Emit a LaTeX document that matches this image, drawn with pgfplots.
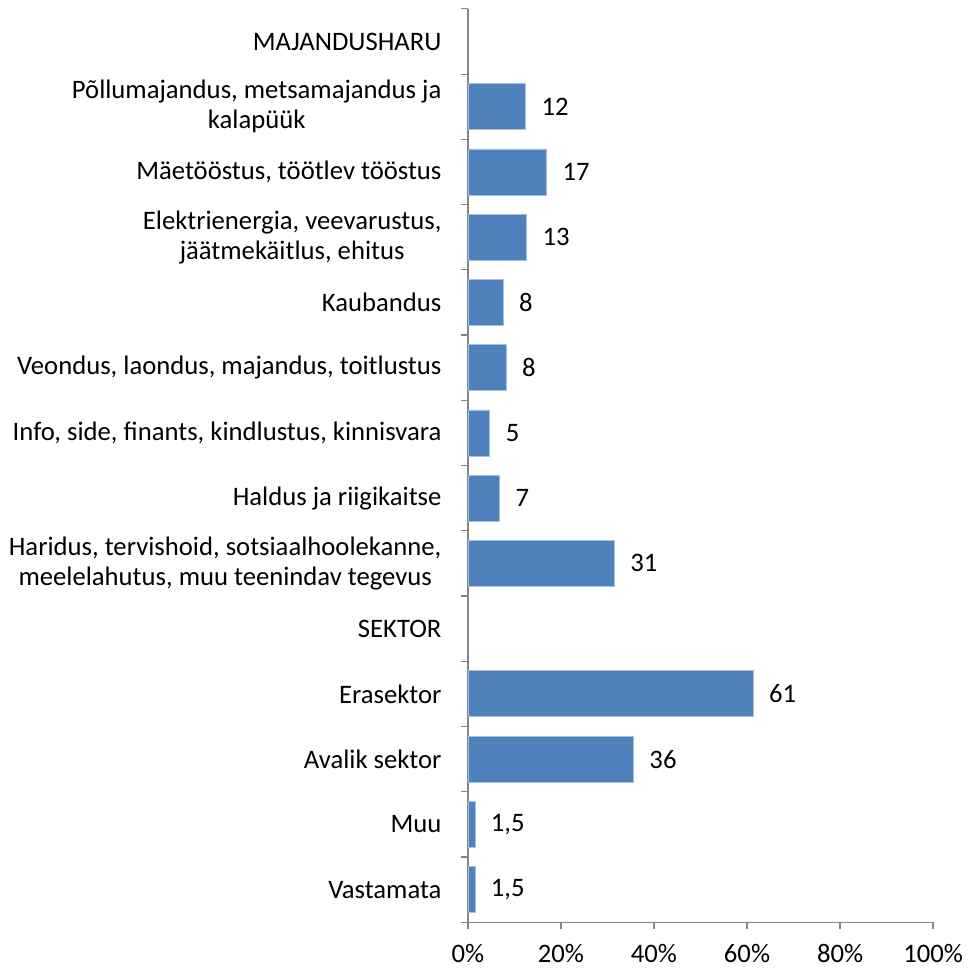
\documentclass[border=0pt]{standalone}
\usepackage{fontspec}
\setmainfont{Carlito}
\usepackage{pgfplots}
\pgfplotsset{compat=1.18}
\definecolor{barblue}{HTML}{4F81BD}
\definecolor{baredge}{HTML}{A7C0DE}
\definecolor{axgray}{HTML}{868686}
\newcommand{\lblfont}{\fontsize{20}{22.5}\selectfont}
\begin{document}
\lblfont
\begin{tikzpicture}
\begin{axis}[
  scale only axis,
  width=348.75pt, height=684.75pt,
  xmin=0, xmax=100,
  ymin=-0.5, ymax=13.5,
  y dir=reverse,
  axis lines*=left,
  axis line style={axgray, line width=0.9pt},
  tick align=outside,
  major tick length=5pt,
  tick style={axgray, line width=0.9pt},
  xtick={0,20,...,100},
  xticklabel={\pgfmathprintnumber{\tick}\%},
  xticklabel style={font=\lblfont, yshift=-5pt},
  /pgf/number format/assume math mode=true,
  ytick={-0.5,0.5,...,13.5},
  yticklabels={},
  extra y ticks={0,1,...,13},
  extra y tick labels={
    {MAJANDUSHARU},
    {Põllumajandus, metsamajandus ja\\kalapüük},
    {Mäetööstus, töötlev tööstus},
    {Elektrienergia, veevarustus,\\jäätmekäitlus, ehitus},
    {Kaubandus},
    {Veondus, laondus, majandus, toitlustus},
    {Info, side, finants, kindlustus, kinnisvara},
    {Haldus ja riigikaitse},
    {Haridus, tervishoid, sotsiaalhoolekanne,\\meelelahutus, muu teenindav tegevus},
    {SEKTOR},
    {Erasektor},
    {Avalik sektor},
    {Muu},
    {Vastamata}},
  extra y tick style={major tick length=0pt, tick style={draw=none},
    yticklabel style={align=center, font=\lblfont, xshift=-13pt}},
  clip=false,
]
\addplot[xbar, bar width=34.5pt, fill=barblue, draw=baredge, line width=0.6pt,
  point meta=explicit,
  nodes near coords={\pgfmathprintnumber[use comma]{\pgfplotspointmeta}},
  nodes near coords style={anchor=west, xshift=5pt, font=\lblfont, black}]
coordinates {
 (12.4,1) [12] (16.9,2) [17] (12.6,3) [13] (7.6,4) [8] (8.2,5) [8]
 (4.7,6) [5] (6.8,7) [7] (31.5,8) [31]
 (61.3,10) [61] (35.6,11) [36] (1.5,12) [1.5] (1.5,13) [1.5]
};
\end{axis}
\end{tikzpicture}
\end{document}
